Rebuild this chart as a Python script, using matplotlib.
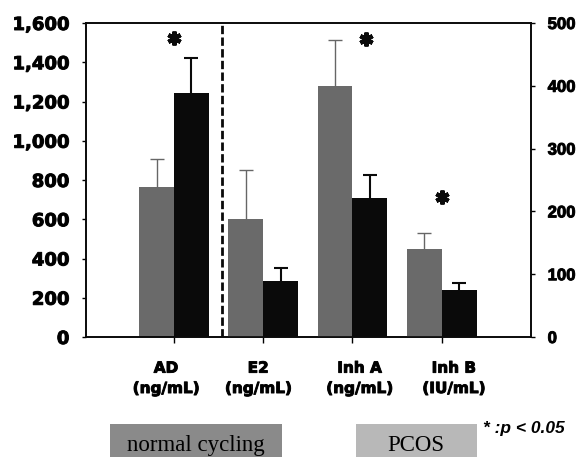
import numpy as np
import matplotlib
matplotlib.use("Agg")
import matplotlib.pyplot as plt
import matplotlib.transforms as mtransforms
import matplotlib.patheffects as pe
from matplotlib.patches import Rectangle

# data
categories = ['AD\n(ng/mL)', 'E2\n(ng/mL)', 'Inh A\n(ng/mL)', 'Inh B\n(IU/mL)']
normal_vals = [765, 188, 400, 140]   # AD on left axis, the rest on right axis
normal_err = [140, 78, 73, 25]
pcos_vals = [1243, 89, 221, 75]
pcos_err = [180, 21, 37, 11]

# significance stars: category position, height (AD on left axis, others right)
sig_x = [0.0, 2.15, 3.0]
sig_y = [1525, 474, 223]

left_ticks = [0, 200, 400, 600, 800, 1000, 1200, 1400, 1600]
right_ticks = [0, 100, 200, 300, 400, 500]

gray = '#6a6a6a'
black = '#0a0a0a'
heavy = [pe.withStroke(linewidth=0.7, foreground=black)]

fig = plt.figure(figsize=(5.81, 4.57), dpi=100)
ax = fig.add_axes([86/581, 1-337/457, 445/581, 314/457])
ax2 = ax.twinx()

x = np.arange(len(categories))
w = 0.39


def up_errbar(a, xs, ys, errs, color, lw):
    # only the upper half of the error bar, with its cap
    _, caps, _ = a.errorbar(xs, ys, yerr=[np.zeros(len(errs)), errs], fmt='none',
                            ecolor=color, elinewidth=lw, capsize=5, capthick=lw, zorder=3)
    caps[0].set_visible(False)


# AD on the left axis
ax.bar(x[0]-w/2, normal_vals[0], w, color=gray, zorder=2)
ax.bar(x[0]+w/2, pcos_vals[0], w, color=black, zorder=2)
up_errbar(ax, [x[0]-w/2], [normal_vals[0]], [normal_err[0]], '#666666', 1)
up_errbar(ax, [x[0]+w/2], [pcos_vals[0]], [pcos_err[0]], black, 1.5)

# E2, Inh A, Inh B on the right axis
ax2.bar(x[1:]-w/2, normal_vals[1:], w, color=gray, zorder=2)
ax2.bar(x[1:]+w/2, pcos_vals[1:], w, color=black, zorder=2)
up_errbar(ax2, x[1:]-w/2, normal_vals[1:], normal_err[1:], '#666666', 1)
up_errbar(ax2, x[1:]+w/2, pcos_vals[1:], pcos_err[1:], black, 1.5)

# stars
ax.plot(sig_x[:1], sig_y[:1], ls='none', marker=(6, 2, 0), ms=10, mew=3, color=black)
ax2.plot(sig_x[1:], sig_y[1:], ls='none', marker=(6, 2, 0), ms=10, mew=3, color=black)

# dashed divider
ax.axvline(0.54, color=black, lw=2, dashes=(3, 1.2), zorder=4)

ax.set_xlim(-0.985, 4.0)
ax.set_ylim(0, 1600)
ax2.set_ylim(0, 500)

ax.set_yticks(left_ticks)
ax.set_yticklabels([f'{v:,}' for v in left_ticks], fontsize=13, fontweight='bold',
                   family='DejaVu Sans')
ax2.set_yticks(right_ticks)
ax2.set_yticklabels([str(v) for v in right_ticks], fontsize=12, fontweight='bold',
                    family='Liberation Sans')
ax.tick_params(axis='y', length=3, width=1, pad=9)
ax2.tick_params(axis='y', length=3, width=1, pad=9)

ax.set_xticks(x)
ax.set_xticklabels(categories, fontsize=11, fontweight='bold', family='DejaVu Sans',
                   linespacing=1.45, va='top')
ax.tick_params(axis='x', length=4, width=1, pad=13)
label_shift = [-8, -5, 7, 12]   # px offsets seen in the original
for lab, dx in zip(ax.get_xticklabels(), label_shift):
    lab.set_transform(lab.get_transform() +
                      mtransforms.ScaledTranslation(dx/100, 0, fig.dpi_scale_trans))

for lab in ax.get_xticklabels() + ax.get_yticklabels() + ax2.get_yticklabels():
    lab.set_path_effects(heavy)

for a in (ax, ax2):
    for s in a.spines.values():
        s.set_linewidth(1.2)
        s.set_color(black)

# legend boxes as in the figure
fig.patches.append(Rectangle((110/581, 0), 172/581, 33/457, transform=fig.transFigure,
                             facecolor='#8a8a8a', edgecolor='none'))
fig.text(196/581, 1-451/457, 'normal cycling', family='Liberation Serif', fontsize=16.5,
         ha='center', va='baseline')
fig.patches.append(Rectangle((356/581, 0), 121/581, 33/457, transform=fig.transFigure,
                             facecolor='#b8b8b8', edgecolor='none'))
fig.text(416/581, 1-451/457, 'PCOS', family='Liberation Serif', fontsize=16.5,
         ha='center', va='baseline')
fig.text(483/581, 1-429/457, '* :p < 0.05', family='Liberation Sans', fontsize=12.5,
         fontweight='bold', style='italic', ha='left', va='center')

fig.savefig('out.png', dpi=100)
